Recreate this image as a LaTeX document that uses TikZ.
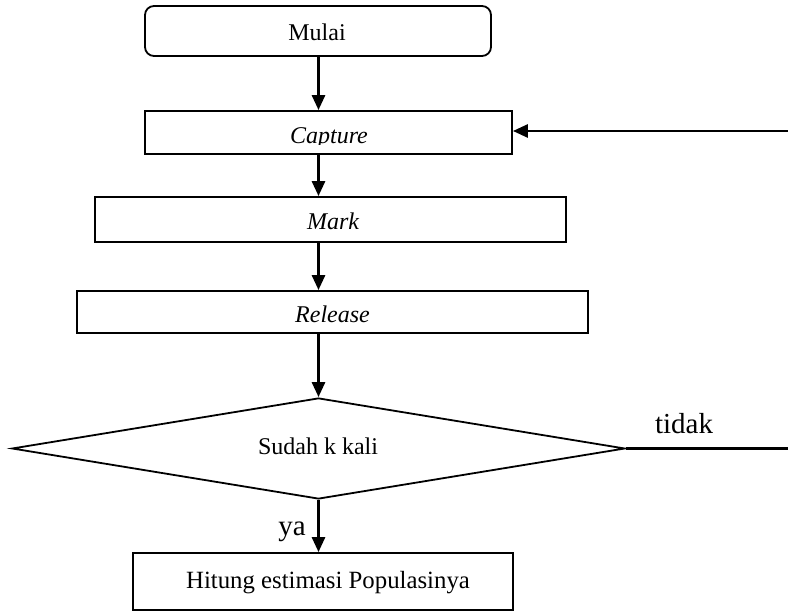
\documentclass[tikz,border=0pt]{standalone}
\usepackage{fontspec}
\setmainfont{Liberation Serif}
\usetikzlibrary{arrows.meta,shapes.geometric}
\begin{document}
\begin{tikzpicture}[x=1pt,y=-1pt,
  box/.style={draw,line width=1.8pt,inner sep=0pt},
  arr/.style={line width=2.8pt,-{Triangle[length=15pt,width=13pt]}},
  lbl/.style={font=\fontsize{24}{24}\selectfont,anchor=base,inner sep=0pt},
  big/.style={font=\fontsize{29}{29}\selectfont}]
\useasboundingbox (0,0) rectangle (788,612);
% boxes
\node[box,rounded corners=9pt,minimum width=346pt,minimum height=50pt] (mulai) at (318,31) {};
\node[box,minimum width=367pt,minimum height=43pt] (capture) at (328.5,132.5) {};
\node[box,minimum width=471pt,minimum height=45pt] (mark) at (330.5,219.5) {};
\node[box,minimum width=511pt,minimum height=42pt] (release) at (332.5,312) {};
\node[draw,line width=1.8pt,diamond,aspect=6,inner sep=0pt,minimum width=613pt,minimum height=101pt] (cek) at (318.5,448.5) {};
\node[box,minimum width=380pt,minimum height=57pt] (hitung) at (323,581.5) {};
% texts
\node[lbl] (tmulai) at (317,41) {Mulai};
\begin{scope}
  \clip (146,112) rectangle (511,145);
  \node[lbl] (tcapture) at (329,144) {\itshape Capture};
\end{scope}
\node[lbl] (tmark) at (333,230) {\itshape Mark};
\begin{scope}
  \clip (78,292) rectangle (587,324);
  \node[lbl] (trelease) at (332.5,323) {\itshape Release};
\end{scope}
\node[lbl] (tcek) at (318,455) {Sudah k kali};
\node[lbl,font=\fontsize{24.8}{25}\selectfont] (thitung) at (328,588) {Hitung estimasi Populasinya};
\node[lbl,big] (ttidak) at (684,434) {tidak};
\node[lbl,big] (tya) at (292,535) {ya};
% connectors
\coordinate (ax) at (318.5,0);
\draw[arr] (mulai.south -| ax) -- (capture.north -| ax);
\draw[arr] (capture.south -| ax) -- (mark.north -| ax);
\draw[arr] (mark.south -| ax) -- (release.north -| ax);
\draw[arr] (release.south -| ax) -- (cek.north);
\draw[arr] (cek.south) -- (hitung.north -| cek.south);
\coordinate (loopin) at (788,131);
\draw[arr] (loopin) -- (capture.east |- loopin);
\coordinate (loopout) at (788,448.5);
\draw[line width=2.8pt] (cek.east) -- (loopout);
\end{tikzpicture}
\end{document}
